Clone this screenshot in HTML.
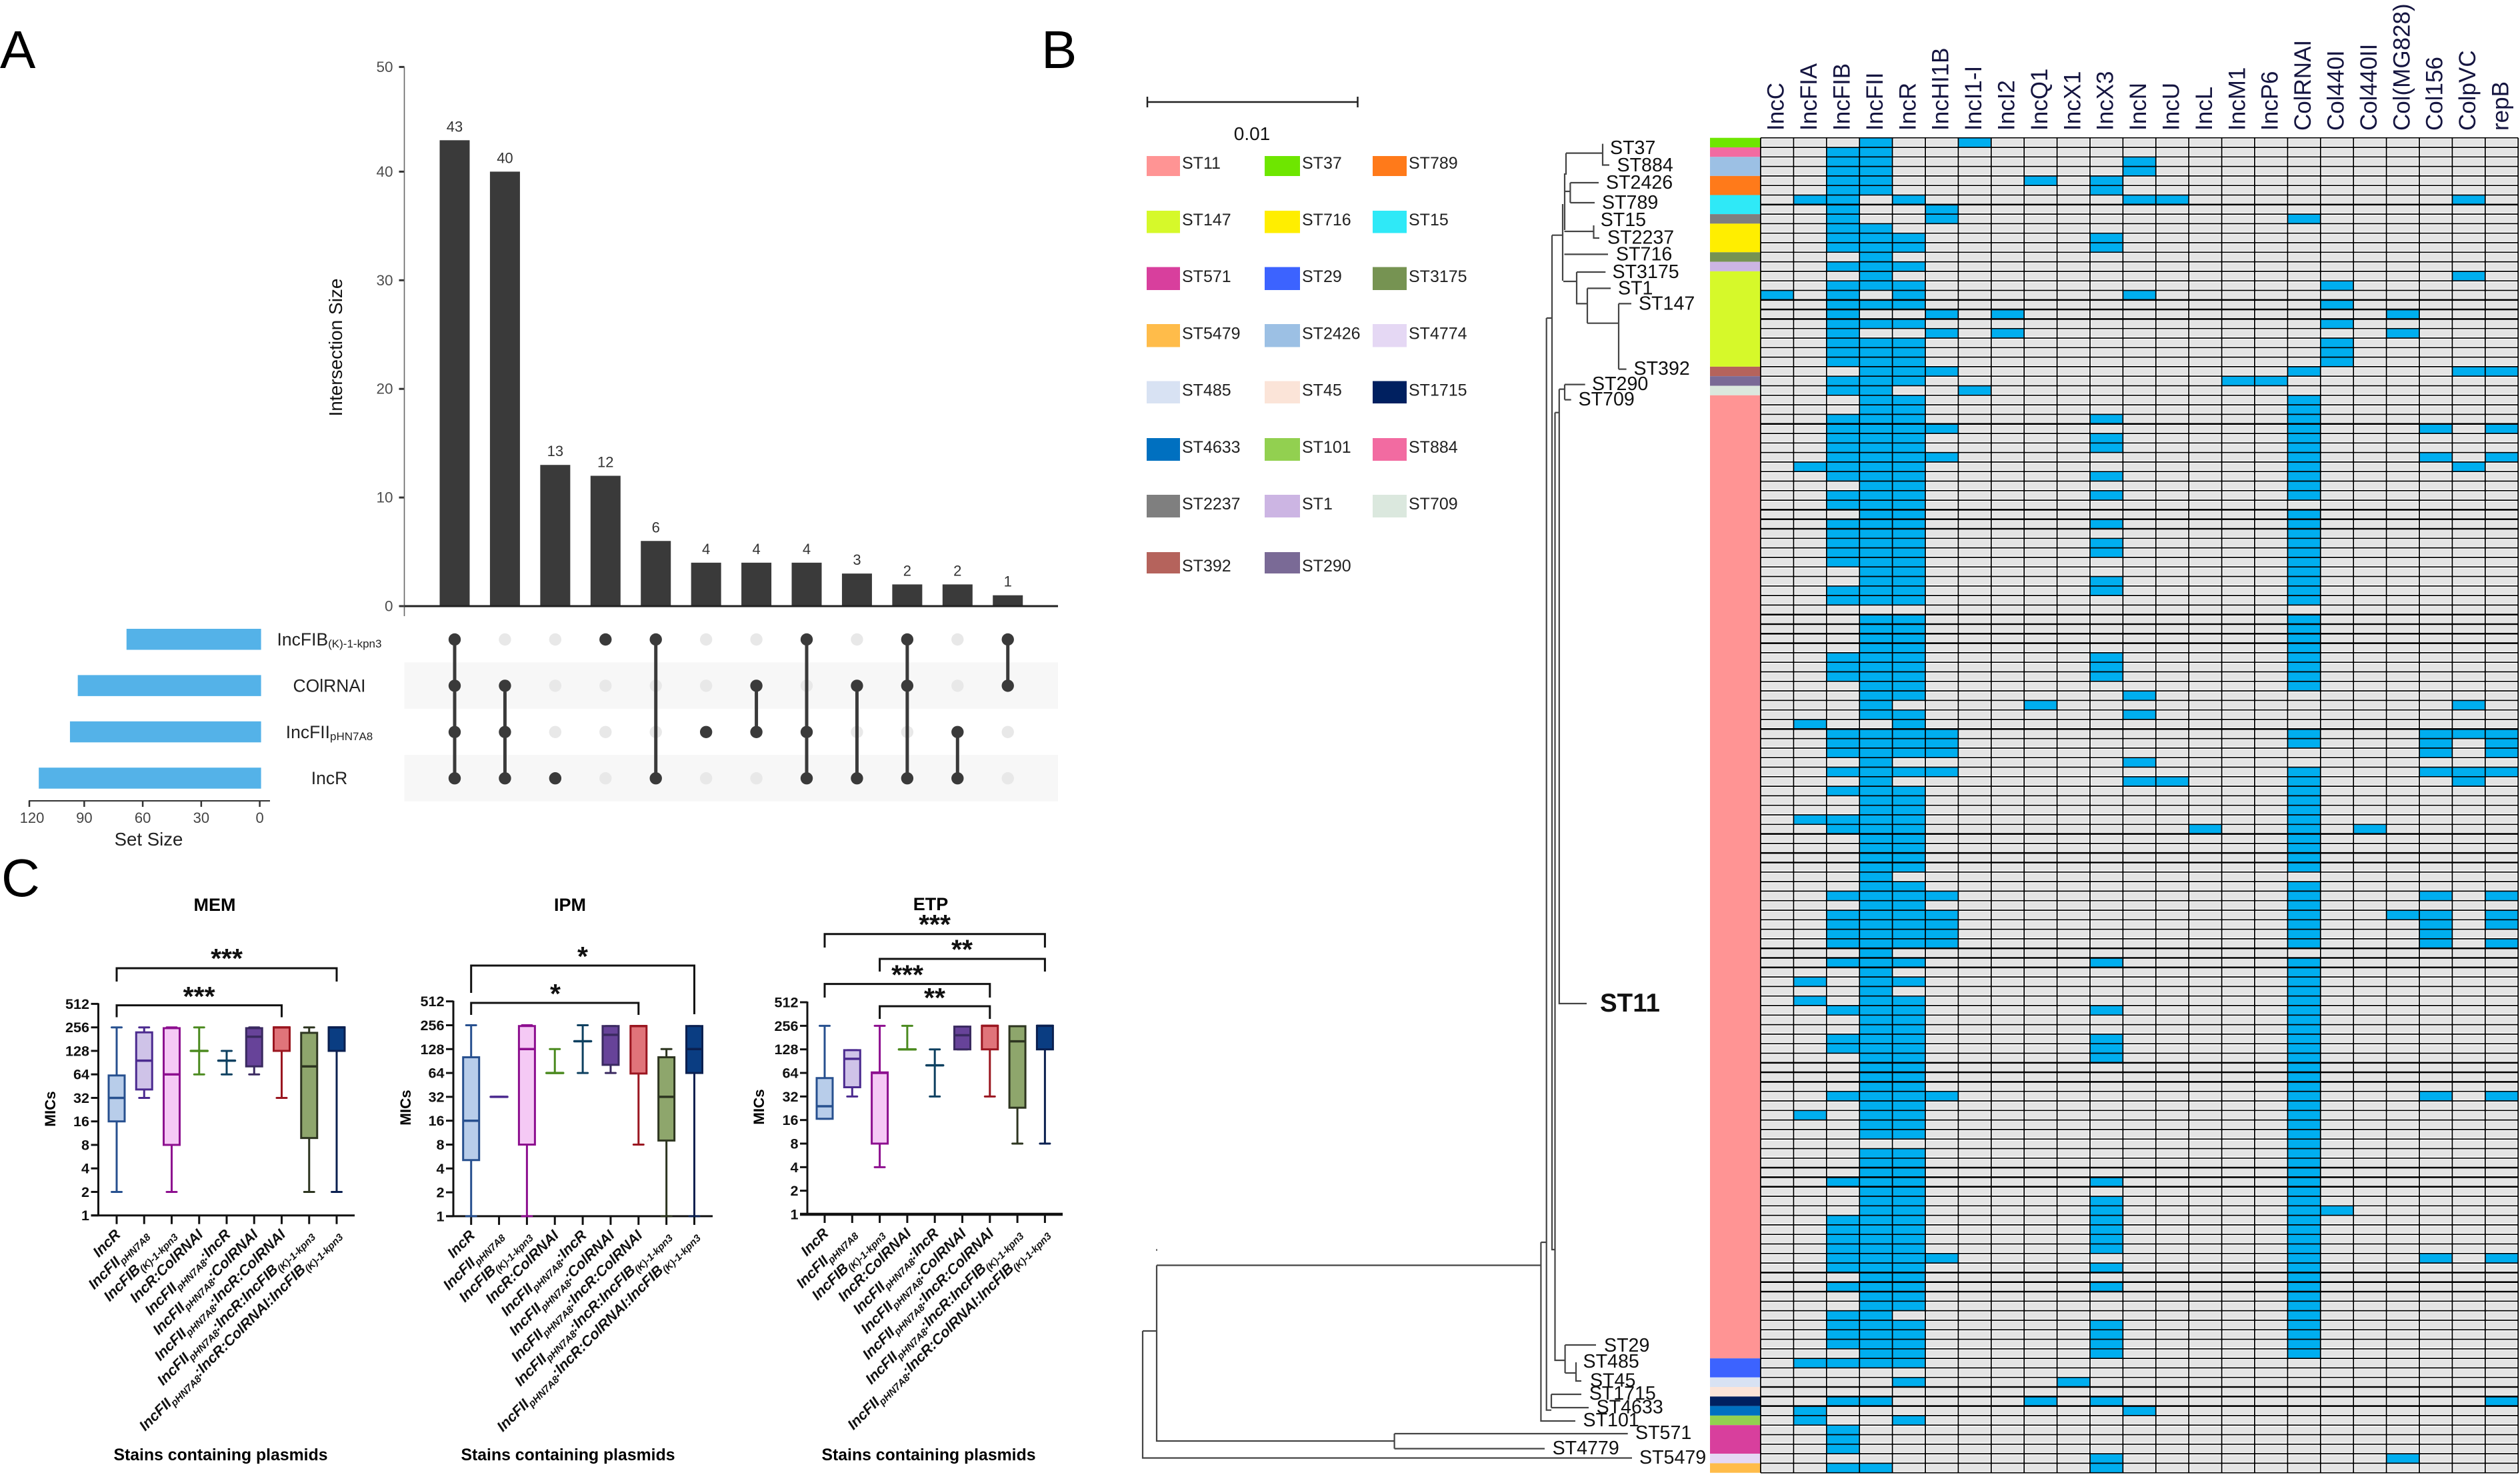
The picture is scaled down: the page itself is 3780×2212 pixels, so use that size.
<!DOCTYPE html>
<html lang="en">
<head>
<meta charset="utf-8">
<title>Plasmid replicon UpSet plot, MIC box plots and ST phylogeny heatmap</title>
<style>
html,body{margin:0;padding:0;background:#fff;}
svg{display:block;font-family:"Liberation Sans",sans-serif;}
</style>
</head>
<body>
<svg id="fig" xmlns="http://www.w3.org/2000/svg" width="3780" height="2212" viewBox="0 0 3780 2212">
<rect width="3780" height="2212" fill="#fff"/>
<text x="0" y="102" font-size="80">A</text>
<text x="1562" y="102" font-size="80">B</text>
<text x="2" y="1344" font-size="80">C</text>

<g id="upset">
<text transform="translate(513,521) rotate(-90)" text-anchor="middle" font-size="28" fill="#111">Intersection Size</text>
<text x="223" y="1268" text-anchor="middle" font-size="27.6" fill="#222">Set Size</text>
</g>

<g id="mic">
<text x="322" y="1366" text-anchor="middle" font-size="27" font-weight="bold">MEM</text>
<text x="855" y="1366" text-anchor="middle" font-size="27" font-weight="bold">IPM</text>
<text x="1396" y="1365" text-anchor="middle" font-size="27" font-weight="bold">ETP</text>
<text x="331" y="2190" text-anchor="middle" font-size="24.8" font-weight="bold">Stains containing plasmids</text>
<text x="852" y="2190" text-anchor="middle" font-size="24.8" font-weight="bold">Stains containing plasmids</text>
<text x="1393" y="2190" text-anchor="middle" font-size="24.8" font-weight="bold">Stains containing plasmids</text>
<text transform="translate(83,1663) rotate(-90)" text-anchor="middle" font-size="22.4" font-weight="bold">MICs</text>
<text transform="translate(616,1661) rotate(-90)" text-anchor="middle" font-size="22.4" font-weight="bold">MICs</text>
<text transform="translate(1146,1660) rotate(-90)" text-anchor="middle" font-size="22.4" font-weight="bold">MICs</text>
<g fill="none" stroke="#111" stroke-width="3">
<path d="M175 1472V1452H505V1472"/>
<path d="M175 1525.5V1507.6H422.5V1525.5"/>
<path d="M706.7 1489V1448H1041.5V1521"/>
<path d="M706.7 1522V1504H957.8V1522"/>
<path d="M1237 1421V1400.7H1567.4V1421"/>
<path d="M1319.6 1457V1438H1567.4V1457"/>
<path d="M1237 1496V1475.6H1484.8V1496"/>
<path d="M1319.6 1528V1509H1484.8V1528"/>
</g>
<g font-size="41" font-weight="bold" text-anchor="middle" fill="#111">
<text x="340" y="1451">***</text>
<text x="298.6" y="1508">***</text>
<text x="874" y="1448">*</text>
<text x="833" y="1504">*</text>
<text x="1402" y="1400">***</text>
<text x="1443" y="1437.5">**</text>
<text x="1361" y="1475.5">***</text>
<text x="1402" y="1510">**</text>
</g>
</g>

<g id="tree-legend">
<path d="M1721 153H2036.5M1721 145V161M2036.5 145V161" fill="none" stroke="#222" stroke-width="2.5"/>
<text x="1878" y="210" text-anchor="middle" font-size="28" fill="#111">0.01</text>
</g>

<g fill="none" stroke="#444" stroke-width="2.2">
<path d="M2349 229.6H2404M2404 215.6V247.5H2414M2349 229.6V262M2347 260V345"/>
<path d="M2347 287H2355.4M2355.4 274V304M2355.4 274H2398M2355.4 304H2392"/>
<path d="M2346.5 347H2390.5M2390.5 338V357H2399"/>
<path d="M2346.5 381.4H2412"/>
<path d="M2344 306V421M2345 422H2365M2365 408V455.4M2365 408H2408.3M2364 455.4H2381M2381 432.4V484.7M2381 432.4H2416M2381 484.7H2428M2428 455.4V553.6M2428 455.4H2447M2428 553.6H2439.6"/>
<path d="M2328 352.7H2344M2328 352.7V1874H2332.6"/>
<path d="M2338.8 583.6H2347M2347 576.6V599.5M2347 576.6H2377.7M2347 599.5H2356.7"/>
<path d="M2332.4 618.7H2338.8M2338.8 583.6V1505H2380"/>
<path d="M2319.7 477H2328M2319.7 477V2114.7H2327"/>
<path d="M2332.5 618.7V2040H2347.6"/>
<path d="M2347.6 2017V2059M2347.6 2017H2394M2347.6 2059H2364M2364 2043V2071H2372"/>
<path d="M2327 2091V2111M2327 2091H2372M2327 2111H2383"/>
<path d="M2311.4 1863V2131H2363M2311.4 1863H2319.7"/>
<path d="M1735 1897.5H2311.4M1735 1897.5V2161H2091.6"/>
<path d="M2091.6 2150V2172.5M2091.6 2150H2441.7M2091.6 2172.5H2317"/>
<path d="M1714 1996H1735M1714 1996V2186.5H2448"/>
<rect x="1734" y="1873" width="2" height="3" fill="#777" stroke="none"/>
</g>
<g font-size="28.6" fill="#111" dominant-baseline="central">
<text x="2415" y="222">ST37</text>
<text x="2425.5" y="248">ST884</text>
<text x="2409" y="274">ST2426</text>
<text x="2403" y="304">ST789</text>
<text x="2400.7" y="330">ST15</text>
<text x="2411" y="356.5">ST2237</text>
<text x="2424" y="381.4">ST716</text>
<text x="2418.5" y="408">ST3175</text>
<text x="2427" y="432.4">ST1</text>
<text x="2458" y="455.4">ST147</text>
<text x="2450.5" y="553">ST392</text>
<text x="2388" y="576">ST290</text>
<text x="2367.5" y="599">ST709</text>
<text x="2406" y="2018">ST29</text>
<text x="2374.5" y="2042">ST485</text>
<text x="2385" y="2070.6">ST45</text>
<text x="2383.7" y="2090">ST1715</text>
<text x="2394.6" y="2110.7">ST4633</text>
<text x="2374.5" y="2130">ST101</text>
<text x="2453" y="2149">ST571</text>
<text x="2328.6" y="2172">ST4779</text>
<text x="2459" y="2186">ST5479</text>
<text x="2400" y="1517" font-size="38.5" font-weight="bold" dominant-baseline="auto">ST11</text>
</g>

<g id="heat"></g>
</svg>

<script>
// ---------- UpSet data ----------
const upsetSets = ['IncFIB{(K)-1-kpn3}', 'COlRNAI', 'IncFII{pHN7A8}', 'IncR'];
const upsetSetSizes = [69, 94, 98, 114];
const upsetSetTicks = [120, 90, 60, 30, 0];
const upsetYTicks = [0, 10, 20, 30, 40, 50];
const upsetCounts = [43, 40, 13, 12, 6, 4, 4, 4, 3, 2, 2, 1];
const upsetMembers = [
  [0, 1, 2, 3], [1, 2, 3], [3], [0], [0, 3], [2],
  [1, 2], [0, 2, 3], [1, 3], [0, 1, 3], [2, 3], [0, 1]
];

// ---------- MIC box-plot data ----------
const micCategories = [
  'IncR', 'IncFII{pHN7A8}', 'IncFIB{(K)-1-kpn3}', 'IncR:ColRNAI', 'IncFII{pHN7A8}:IncR',
  'IncFII{pHN7A8}:ColRNAI', 'IncFII{pHN7A8}:IncR:ColRNAI', 'IncFII{pHN7A8}:IncR:IncFIB{(K)-1-kpn3}',
  'IncFII{pHN7A8}:IncR:ColRNAI:IncFIB{(K)-1-kpn3}'
];
const micTicks = [1, 2, 4, 8, 16, 32, 64, 128, 256, 512];

const memLow = [2, 32, 2, 64, 64, 64, 32, 2, 2];
const memQ1 = [16, 41, 8, null, null, 81, 128, 9.8, 128];
const memMedian = [32, 96, 64, 128, 96, 194, 256, 81, 256];
const memQ3 = [62, 221, 250, null, null, 250, 256, 218, 256];
const memHigh = [256, 256, 256, 256, 128, 256, 256, 256, 256];

const ipmLow = [1, 32, 1, 64, 64, 64, 8, 1, 1];
const ipmQ1 = [5.1, null, 8, null, null, 81, 63, 9, 64];
const ipmMedian = [16, 32, 128, 64, 161, 194, 250, 32, 128];
const ipmQ3 = [101, null, 250, null, null, 250, 250, 101, 250];
const ipmHigh = [256, 32, 256, 128, 256, 250, 250, 128, 250];

const etpLow = [16.6, 32, 4, 128, 32, 128, 32, 8, 8];
const etpQ1 = [16.6, 42, 8, null, null, 128, 128, 23, 128];
const etpMedian = [24, 97, 64, 128, 80, 194, 256, 162, 256];
const etpQ3 = [55, 125, 65, null, null, 250, 256, 253, 256];
const etpHigh = [256, 125, 256, 256, 128, 250, 256, 253, 256];

// ---------- Heatmap data ----------
const repliconNames = ['IncC','IncFIA','IncFIB','IncFII','IncR','IncHI1B','IncI1-I','IncI2','IncQ1','IncX1','IncX3','IncN','IncU','IncL','IncM1','IncP6','ColRNAI','Col440I','Col440II','Col(MG828)','Col156','ColpVC','repB'];
const stripNames = ['ST37','ST884','ST2426','ST789','ST15','ST2237','ST716','ST3175','ST1','ST147','ST392','ST290','ST709','ST11','ST29','ST485','ST45','ST1715','ST4633','ST101','ST571','ST4774','ST5479'];
const stripCounts = [1,1,2,2,2,1,3,1,1,10,1,1,1,101,2,1,1,1,1,1,3,1,1];
const legendNames = ['ST11','ST37','ST789','ST147','ST716','ST15','ST571','ST29','ST3175','ST5479','ST2426','ST4774','ST485','ST45','ST1715','ST4633','ST101','ST884','ST2237','ST1','ST709','ST392','ST290'];
const legendColors = ['#ff9494','#6ee600','#ff7a1a','#d6f92a','#ffee00','#2fe9f7','#d83f9d','#3c63ff','#769352','#ffbc4a','#9cc0e4','#e5d8f4','#d8e2f3','#fbe4d8','#002060','#0070c0','#92d050','#f26ba1','#7f7f7f','#ccb5e3','#dbe8de','#b5635c','#7a6a96'];
const heavyRowLines = [7,17,18,19,30,39,40,41,50,51,52,53,62,73,75,76,85,86,87,97,98,99,108,109,110,119,120,121,131,132,133];
const presentRows = [
[3,6],[2,3],[2,3,11],[2,3,11],[2,3,8,10],[2,3,10],[1,2,4,11,12,21],[2,5],[2,5,16],[2,3],
[2,3,4,10],[2,3,4,10],[3],[2,3,4],[3,21],[2,3,4,17],[0,2,4,11],[2,3,4,17],[2,5,7,19],[2,3,4,17],
[2,5,7,19],[2,3,4,17],[2,3,4,17],[2,3,4,17],[3,4,5,16,21,22],[2,3,4,14,15],[2,3,6],[3,4,16],[3,4,16],[2,3,4,10,16],
[2,3,4,5,16,20,22],[2,3,4,10,16],[2,3,4,10,16],[2,3,4,5,16,20,22],[1,2,3,4,16,21],[2,3,4,10,16],[3,4,16],[2,3,4,10,16],[2,3,4],[3,4,16],
[2,3,4,10,16],[2,3,4,16],[2,3,4,10,16],[2,3,4,10,16],[2,3,4,16],[3,4,16],[3,4,10,16],[2,3,4,10,16],[2,3,4,16],[],
[3,4,16],[3,4,16],[3,4,16],[3,4,16],[2,3,4,10,16],[2,3,4,10,16],[2,3,4,10,16],[3,4,16],[3,4,11],[3,8,21],
[3,4,11],[1,4],[2,3,4,5,16,20,21,22],[2,3,4,5,16,20,22],[2,3,4,5,20,22],[3,11],[2,3,4,5,16,20,21,22],[3,11,12,16,21],[2,3,4,16],[3,4,16],
[3,4,16],[1,2,3,4,16],[2,3,4,13,16,18],[3,4,16],[3,4,16],[3,4,16],[3,4,16],[3],[3,4,16],[2,3,4,5,16,20,22],
[3,4,16],[2,3,4,5,16,19,20,22],[2,3,4,5,16,20,22],[2,3,4,5,16,20],[2,3,4,5,16,20,22],[3],[2,3,4,10,16],[3,16],[1,3,4,16],[3,16],
[1,3,4,16],[2,3,4,10,16],[3,4,16],[3,4,16],[2,3,4,10,16],[2,3,4,10,16],[3,4,10,16],[3,4,16],[3,4,16],[3,4,16],
[2,3,4,5,16,20,22],[3,4,16],[1,3,4,16],[3,4,16],[3,4,16],[16],[3,4,16],[3,4,16],[3,4,16],[2,3,4,10,16],
[3,4,16],[3,4,10,16],[3,4,10,16,17],[2,3,4,10,16],[2,3,4,10,16],[2,3,4,10,16],[2,3,4,10,16],[2,3,4,5,16,20,22],[2,3,4,10,16],[3,4,16],
[2,3,4,10,16],[3,4,16],[3,4,16],[2,3,16],[2,3,4,10,16],[2,3,4,10,16],[2,3,4,10,16],[3,4,10,16],[1,2,3,4],[],
[4,9],[],[2,3,8,10,22],[1,11],[1,4],[2],[2],[2],[10,19],[2,3,10]
];

// ---------- Drawing helpers ----------
const NS = 'http://www.w3.org/2000/svg';
function mk(parent, tag, attrs, text) {
  const el = document.createElementNS(NS, tag);
  for (const k in attrs) el.setAttribute(k, attrs[k]);
  if (text !== undefined) el.textContent = text;
  parent.appendChild(el);
  return el;
}
// Adds main text with {subscript} segments as tspans.
function addRichText(textEl, label, subSize, shift) {
  label.split(/(\{[^}]*\})/).filter(Boolean).forEach(function (part, i, parts) {
    const isSub = part[0] === '{';
    const span = document.createElementNS(NS, 'tspan');
    span.textContent = isSub ? part.slice(1, -1) : part;
    if (isSub) {
      span.setAttribute('font-size', subSize);
      span.setAttribute('dy', shift);
    } else if (i > 0 && parts[i - 1][0] === '{') {
      span.setAttribute('dy', -shift);
    }
    textEl.appendChild(span);
  });
}

// ---------- UpSet ----------
(function () {
  const root = document.getElementById('upset');
  const x = i => 682 + 75.43 * i;
  const y = v => v <= 40 ? 909 - 16.29 * v : 257.4 - 15.7 * (v - 40);
  const rowY = r => 959 + 69.4 * r;
  const setX = v => 391.6 - 2.925 * v;
  const axisX = 606.5, axisRight = 1587;

  [1, 3].forEach(function (r) {
    const band = mk(root, 'rect', { x: axisX, y: rowY(r) - 35, width: axisRight - axisX, height: 69.5, fill: '#f7f7f7' });
    
    
  });

  upsetYTicks.forEach(function (t) {
    const tick = mk(root, 'line', { x1: axisX - 8, x2: axisX, y1: y(t), y2: y(t), stroke: '#333', 'stroke-width': 3 });
    
    
    const lab = mk(root, 'text', { x: axisX - 17, y: y(t), 'text-anchor': 'end', 'dominant-baseline': 'central', 'font-size': 22.5, fill: '#4d4d4d' }, t);
    
    
  });
  const yAxis = mk(root, 'line', { x1: axisX, x2: axisX, y1: y(50), y2: 924, stroke: '#666', 'stroke-width': 1.6 });
  
  

  upsetCounts.forEach(function (c, i) {
    const bar = mk(root, 'rect', { x: x(i) - 22.5, y: y(c), width: 45, height: y(0) - y(c), fill: '#3a3a3a' });
    
    
    const lab = mk(root, 'text', { x: x(i), y: y(c) - 13, 'text-anchor': 'middle', 'font-size': 22, fill: '#333' }, c);
    
    
  });
  const xAxis = mk(root, 'line', { x1: axisX, x2: axisRight, y1: y(0), y2: y(0), stroke: '#222', 'stroke-width': 3 });
  
  

  upsetMembers.forEach(function (members, i) {
    upsetSets.forEach(function (s, r) {
      const on = members.indexOf(r) >= 0;
      const dot = mk(root, 'circle', { cx: x(i), cy: rowY(r), r: 9.2, fill: on ? '#3a3a3a' : '#e8e8e8' });
      
      
    });
    if (members.length > 1) {
      const link = mk(root, 'line', { x1: x(i), x2: x(i), y1: rowY(Math.min.apply(null, members)), y2: rowY(Math.max.apply(null, members)), stroke: '#3a3a3a', 'stroke-width': 5 });
      
      
    }
  });

  upsetSets.forEach(function (s, r) {
    const bar = mk(root, 'rect', { x: setX(upsetSetSizes[r]), y: rowY(r) - 16, width: setX(0) - setX(upsetSetSizes[r]), height: 31.5, fill: '#54b2e8' });
    
    
    const lab = mk(root, 'text', { x: 494, y: rowY(r) + 9, 'text-anchor': 'middle', 'font-size': 26.5, fill: '#222' });
    
    
    addRichText(lab, s, 17, 3);
  });

  const setAxis = mk(root, 'line', { x1: 43, x2: 405, y1: 1201, y2: 1201, stroke: '#333', 'stroke-width': 2 });
  
  
  upsetSetTicks.forEach(function (t) {
    const tx = Math.max(44, setX(t) - 2);
    const tick = mk(root, 'line', { x1: tx, x2: tx, y1: 1201, y2: 1210, stroke: '#333', 'stroke-width': 2.5 });
    
    
    const lab = mk(root, 'text', { x: tx + (t === 120 ? 4 : 0), y: 1234, 'text-anchor': 'middle', 'font-size': 22, fill: '#444' }, t);
    
    
  });
})();

// ---------- MIC box plots ----------
(function () {
  const root = document.getElementById('mic');
  const strokeColors = ['#27508f', '#4b2a8f', '#8d0f8f', '#4b8a1f', '#0e4060', '#3a2a60', '#9a1620', '#2d3520', '#0b2050'];
  const fillColors = ['#b8cdea', '#cfc3e8', '#f5c9f5', 'none', 'none', '#674399', '#e0747a', '#8ea66c', '#0a3d82'];
  const panels = [
    { id: 'mem', axisX: 147.5, axisEnd: 532, y1: 1822.7, step: 35.25, x0: 175, dx: 41.25, w: 3, low: memLow, q1: memQ1, med: memMedian, q3: memQ3, high: memHigh },
    { id: 'ipm', axisX: 680, axisEnd: 1069, y1: 1823.9, step: 35.8, x0: 706.7, dx: 41.85, w: 3, low: ipmLow, q1: ipmQ1, med: ipmMedian, q3: ipmQ3, high: ipmHigh },
    { id: 'etp', axisX: 1211, axisEnd: 1594, y1: 1821, step: 35.33, x0: 1237, dx: 41.3, w: 4.5, low: etpLow, q1: etpQ1, med: etpMedian, q3: etpQ3, high: etpHigh }
  ];
  panels.forEach(function (p) {
    const g = mk(root, 'g', {});
    
    
    const y = v => p.y1 - Math.log2(v) * p.step;
    const x = i => p.x0 + p.dx * i;

    const yAxis = mk(g, 'line', { x1: p.axisX, x2: p.axisX, y1: y(512) - 1, y2: p.y1 + 1, stroke: '#111', 'stroke-width': 3 });
    
    
    const xAxis = mk(g, 'line', { x1: p.axisX - 11, x2: p.axisEnd, y1: p.y1, y2: p.y1, stroke: '#111', 'stroke-width': p.w });
    
    

    micTicks.forEach(function (t) {
      const tick = mk(g, 'line', { x1: p.axisX - 11, x2: p.axisX, y1: y(t), y2: y(t), stroke: '#111', 'stroke-width': 3 });
      
      
      const lab = mk(g, 'text', { x: p.axisX - 13.5, y: y(t), 'text-anchor': 'end', 'dominant-baseline': 'central', 'font-size': 21.6, 'font-weight': 'bold', fill: '#111' }, t);
      
      
    });

    micCategories.forEach(function (cat, i) {
      const cx = x(i);
      const color = strokeColors[i];
      const tick = mk(g, 'line', { x1: cx, x2: cx, y1: p.y1, y2: p.y1 + 13, stroke: '#111', 'stroke-width': 3 });
      
      

      const whisker = mk(g, 'line', { x1: cx, x2: cx, y1: y(p.low[i]), y2: y(p.high[i]), stroke: color, 'stroke-width': 3 });
      
      
      [p.low[i], p.high[i]].forEach(function (v) {
        const cap = mk(g, 'line', { x1: cx - 7.5, x2: cx + 7.5, y1: y(v), y2: y(v), stroke: color, 'stroke-width': 3, 'stroke-linecap': 'round' });
        
        
      });
      if (p.q1[i] !== null) {
        const box = mk(g, 'rect', { x: cx - 12, y: y(p.q3[i]), width: 24, height: y(p.q1[i]) - y(p.q3[i]), fill: fillColors[i], stroke: color, 'stroke-width': 3 });
        
        
      }
      const median = mk(g, 'line', { x1: cx - 12.5, x2: cx + 12.5, y1: y(p.med[i]), y2: y(p.med[i]), stroke: color, 'stroke-width': 3.5, 'stroke-linecap': p.q1[i] === null ? 'round' : 'butt' });
      
      

      const lab = mk(g, 'text', { transform: 'translate(' + (cx + 7) + ',' + (p.y1 + 30) + ') rotate(-45)', 'text-anchor': 'end', 'font-size': 22, 'font-style': 'italic', 'font-weight': 'bold', fill: '#111' });
      
      
      addRichText(lab, cat, 15, 5);
    });
  });
})();

// ---------- Legend ----------
(function () {
  const root = document.getElementById('tree-legend');
  const swatchX = [1720, 1897, 2059];
  const swatchW = [50, 53, 51];
  const rowTop = [234, 316, 400.5, 486, 571.5, 657, 742, 828];
  const rowH = [30, 33.5, 34.5, 34.5, 33.5, 34, 34, 32];
  const textY = [245, 330, 415, 500.7, 585.5, 671, 756, 849];
  legendNames.forEach(function (name, i) {
    const c = i % 3, r = Math.floor(i / 3);
    const sw = mk(root, 'rect', { x: swatchX[c], y: rowTop[r], width: swatchW[c], height: rowH[r], fill: legendColors[i] });
    
    
    const lab = mk(root, 'text', { x: swatchX[c] + swatchW[c] + 3, y: textY[r], 'dominant-baseline': 'central', 'font-size': 25, fill: '#222' }, name);
    
    
  });
})();

// ---------- Heatmap ----------
(function () {
  const root = document.getElementById('heat');
  const left = 2641, top = 206.7, cw = 49.4, rh = 14.3;
  const nRows = presentRows.length, nCols = repliconNames.length;
  const bx = c => left + cw * c;
  const by = r => top + rh * r;

  const base = mk(root, 'rect', { x: left, y: top, width: cw * nCols, height: rh * nRows, fill: '#fff' });
  
  

  let row = 0;
  stripNames.forEach(function (name, i) {
    const seg = mk(root, 'rect', { x: 2565, y: by(row), width: 76, height: rh * stripCounts[i], fill: legendColors[legendNames.indexOf(name)] });
    
    
    row += stripCounts[i];
  });

  presentRows.forEach(function (cols, r) {
    for (let c = 0; c < nCols; c++) {
      const on = cols.indexOf(c) >= 0;
      const cell = mk(root, 'rect', on
        ? { x: bx(c), y: by(r), width: cw, height: rh, fill: '#00aeef' }
        : { x: bx(c) + 2, y: by(r) + 2, width: cw - 4, height: rh - 4, fill: '#e4e4e4' });
      
      
    }
  });

  for (let r = 0; r <= nRows; r++) {
    const line = mk(root, 'line', { x1: left, x2: left + cw * nCols, y1: by(r), y2: by(r), stroke: '#000', 'stroke-width': heavyRowLines.indexOf(r) >= 0 ? 2.6 : 1.7 });
    
    
  }
  for (let c = 0; c <= nCols; c++) {
    const line = mk(root, 'line', { x1: bx(c), x2: bx(c), y1: top, y2: by(nRows), stroke: '#000', 'stroke-width': 1.8 });
    
    
  }
  repliconNames.forEach(function (name, c) {
    const lab = mk(root, 'text', { transform: 'translate(' + (bx(c) + cw / 2 + 10) + ',196) rotate(-90)', 'font-size': 35, fill: '#151540' }, name);
    
    
  });
})();
</script>
</body>
</html>
